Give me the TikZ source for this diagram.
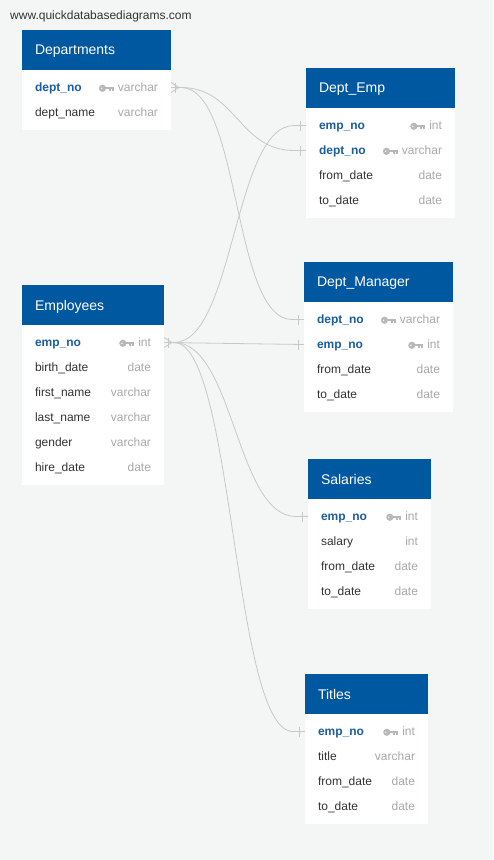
\documentclass[tikz,border=0pt]{standalone}
\usepackage{fontspec}
\setmainfont{Liberation Sans}
\usepackage{tikz}
\usetikzlibrary{positioning}
\usetikzlibrary{calc}
\usetikzlibrary{backgrounds}

\definecolor{pagebg}{HTML}{F4F5F5}
\definecolor{headblue}{HTML}{0058A0}
\definecolor{keyblue}{HTML}{1A5E9E}
\definecolor{fieldtext}{HTML}{333333}
\definecolor{typegray}{HTML}{A9A9A9}
\definecolor{keygray}{HTML}{B8B8B8}
\definecolor{linkgray}{HTML}{C8C8C8}

\newcommand{\keyname}[1]{{\color{keyblue}\bfseries #1}}
\newcommand{\ftype}[1]{{\color{typegray}#1}}
\newcommand{\keyglyph}{\tikz[baseline=0pt,x=1pt,y=1pt]{%
  \fill[keygray] (3.5,3.6) circle (3.6);
  \fill[keygray] (5,2.4) rectangle (15,4.8);
  \fill[keygray] (9.8,2.6) rectangle (11.8,0.6);
  \fill[keygray] (12.8,2.6) rectangle (15,0.6);
  \fill[white] (2.6,3.6) circle (0.7);}}

\begin{document}
\begin{tikzpicture}[
    x=1pt, y=-1pt,           % pixel grid, y going down
    node distance=0pt,       % rows are stacked without gaps
    ]
% -------------------------------------------------
\tikzset{
  head/.style={fill=headblue, text=white, text width=#1, inner xsep=13pt,
    inner ysep=0pt, outer sep=0pt, minimum height=40pt, text depth=0pt,
    font=\fontsize{14pt}{16pt}\selectfont},
  row/.style={text=fieldtext, text width=#1, inner xsep=13pt, inner ysep=0pt,
    outer sep=0pt, minimum height=25pt, text depth=0pt,
    font=\fontsize{12pt}{14pt}\selectfont},
  body/.style={fill=white},
  link/.style={draw, color=linkgray, line width=0.8pt}
}
% -------------------------------------------------
\begin{scope}[on background layer]
\fill[pagebg] (0,0) rectangle (493,860);
\end{scope}
\useasboundingbox (0,0) rectangle (493,860);

\node [anchor=west, text=fieldtext, font=\fontsize{12pt}{14pt}\selectfont,
  inner sep=0pt] (site) at (10,16) {www.quickdatabasediagrams.com};

% Placing the tables

\node [head=123pt, anchor=north west] (dep) at (22,30) {Departments};
\node [row=123pt, below=5pt of dep] (dep-no) {\keyname{dept\_no}\hfill\keyglyph\ \ftype{varchar}};
\node [row=123pt, below=of dep-no] (dep-name) {dept\_name\hfill\ftype{varchar}};

\node [head=123pt, anchor=north west] (demp) at (306,68) {Dept\_Emp};
\node [row=123pt, below=5pt of demp] (demp-emp) {\keyname{emp\_no}\hfill\keyglyph\ \ftype{int}};
\node [row=123pt, below=of demp-emp] (demp-dep) {\keyname{dept\_no}\hfill\keyglyph\ \ftype{varchar}};
\node [row=123pt, below=of demp-dep] (demp-from) {from\_date\hfill\ftype{date}};
\node [row=123pt, below=of demp-from] (demp-to) {to\_date\hfill\ftype{date}};

\node [head=123pt, anchor=north west] (dman) at (304,262) {Dept\_Manager};
\node [row=123pt, below=5pt of dman] (dman-dep) {\keyname{dept\_no}\hfill\keyglyph\ \ftype{varchar}};
\node [row=123pt, below=of dman-dep] (dman-emp) {\keyname{emp\_no}\hfill\keyglyph\ \ftype{int}};
\node [row=123pt, below=of dman-emp] (dman-from) {from\_date\hfill\ftype{date}};
\node [row=123pt, below=of dman-from] (dman-to) {to\_date\hfill\ftype{date}};

\node [head=116pt, anchor=north west] (emp) at (22,285) {Employees};
\node [row=116pt, below=5pt of emp] (emp-no) {\keyname{emp\_no}\hfill\keyglyph\ \ftype{int}};
\node [row=116pt, below=of emp-no] (emp-birth) {birth\_date\hfill\ftype{date}};
\node [row=116pt, below=of emp-birth] (emp-first) {first\_name\hfill\ftype{varchar}};
\node [row=116pt, below=of emp-first] (emp-last) {last\_name\hfill\ftype{varchar}};
\node [row=116pt, below=of emp-last] (emp-gender) {gender\hfill\ftype{varchar}};
\node [row=116pt, below=of emp-gender] (emp-hire) {hire\_date\hfill\ftype{date}};

\node [head=97pt, anchor=north west] (sal) at (308,459) {Salaries};
\node [row=97pt, below=5pt of sal] (sal-emp) {\keyname{emp\_no}\hfill\keyglyph\ \ftype{int}};
\node [row=97pt, below=of sal-emp] (sal-salary) {salary\hfill\ftype{int}};
\node [row=97pt, below=of sal-salary] (sal-from) {from\_date\hfill\ftype{date}};
\node [row=97pt, below=of sal-from] (sal-to) {to\_date\hfill\ftype{date}};

\node [head=97pt, anchor=north west] (tit) at (305,674) {Titles};
\node [row=97pt, below=5pt of tit] (tit-emp) {\keyname{emp\_no}\hfill\keyglyph\ \ftype{int}};
\node [row=97pt, below=of tit-emp] (tit-title) {title\hfill\ftype{varchar}};
\node [row=97pt, below=of tit-title] (tit-from) {from\_date\hfill\ftype{date}};
\node [row=97pt, below=of tit-from] (tit-to) {to\_date\hfill\ftype{date}};

% white table bodies
\begin{scope}[on background layer]
\fill[body] (dep.south west) rectangle ([yshift=-5pt]dep-name.south east);
\fill[body] (demp.south west) rectangle ([yshift=-5pt]demp-to.south east);
\fill[body] (dman.south west) rectangle ([yshift=-5pt]dman-to.south east);
\fill[body] (emp.south west) rectangle ([yshift=-5pt]emp-hire.south east);
\fill[body] (sal.south west) rectangle ([yshift=-5pt]sal-to.south east);
\fill[body] (tit.south west) rectangle ([yshift=-5pt]tit-to.south east);
\end{scope}

% Relations
\path [link] (dep-no.east) -- ++(10,0) .. controls +(55,0) and +(-55,0) .. ([xshift=-12pt]demp-dep.west) -- (demp-dep.west);
\path [link] (dep-no.east) -- ++(10,0) .. controls +(60,0) and +(-60,0) .. ([xshift=-12pt]dman-dep.west) -- (dman-dep.west);
\path [link] (emp-no.east) -- ++(10,0) .. controls +(60,0) and +(-60,0) .. ([xshift=-12pt]demp-emp.west) -- (demp-emp.west);
\path [link] (emp-no.east) -- (dman-emp.west);
\path [link] (emp-no.east) -- ++(10,0) .. controls +(60,0) and +(-60,0) .. ([xshift=-12pt]sal-emp.west) -- (sal-emp.west);
\path [link] (emp-no.east) -- ++(10,0) .. controls +(60,0) and +(-60,0) .. ([xshift=-12pt]tit-emp.west) -- (tit-emp.west);

% many ends
\path [link] ([yshift=5pt]dep-no.east) -- ++(8,5) -- ([yshift=-5pt]dep-no.east);
\path [link] ([xshift=4pt,yshift=5pt]dep-no.east) -- ++(0,10);
\path [link] ([yshift=5pt]emp-no.east) -- ++(8,5) -- ([yshift=-5pt]emp-no.east);
\path [link] ([xshift=4pt,yshift=5pt]emp-no.east) -- ++(0,10);

% one ends
\path [link] ([xshift=-6pt,yshift=5pt]demp-emp.west) -- ++(0,10);
\path [link] ([xshift=-6pt,yshift=5pt]demp-dep.west) -- ++(0,10);
\path [link] ([xshift=-6pt,yshift=5pt]dman-dep.west) -- ++(0,10);
\path [link] ([xshift=-6pt,yshift=5pt]dman-emp.west) -- ++(0,10);
\path [link] ([xshift=-6pt,yshift=5pt]sal-emp.west) -- ++(0,10);
\path [link] ([xshift=-6pt,yshift=5pt]tit-emp.west) -- ++(0,10);

\end{tikzpicture}
\end{document}
